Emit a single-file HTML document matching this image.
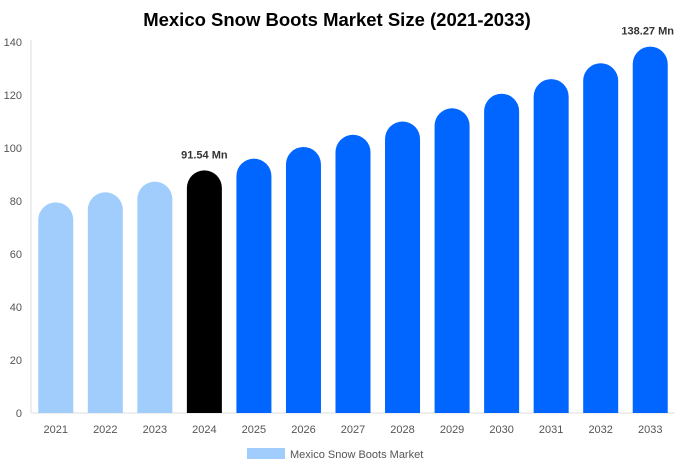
<!DOCTYPE html>
<html><head><meta charset="utf-8"><style>
body{margin:0;background:#fff;font-family:"Liberation Sans",Arial,sans-serif}
svg text{font-family:"Liberation Sans",Arial,sans-serif}
</style></head><body>
<svg id="c" width="675" height="469">
<text x="337" y="26" text-anchor="middle" font-size="18.5" font-weight="bold" fill="#000">Mexico Snow Boots Market Size (2021-2033)</text>
<g id="axes"></g><g id="bars"></g>
<g>
<rect x="247" y="448" width="38" height="11" fill="#a0cdfc"/>
<text x="290" y="458" font-size="11" fill="#555">Mexico Snow Boots Market</text>
</g>
</svg>
<script>
const categories=["2021","2022","2023","2024","2025","2026","2027","2028","2029","2030","2031","2032","2033"];
const values=[79.5,83.3,87.3,91.54,96,100.4,105,110,115,120.5,126,132,138.27];
const valueLabels=["","","","91.54 Mn","","","","","","","","","138.27 Mn"];
const yTicks=[0,20,40,60,80,100,120,140];
const NS="http://www.w3.org/2000/svg";
const x0=31,x1=675,yB=413,yT=42,yMax=140;
const band=(x1-x0)/categories.length;
const y=v=>yB-(v/yMax)*(yB-yT);
const xc=i=>x0+band*(i+0.5);
function mk(t,a,p){const e=document.createElementNS(NS,t);for(const k in a)e.setAttribute(k,a[k]);p.appendChild(e);return e;}
const ax=document.getElementById('axes'),bg=document.getElementById('bars');
const yl=mk('line',{x1:x0,x2:x0,y1:yT-2,y2:yB,stroke:'#ddd'},ax);


const xl=mk('line',{x1:x0,x2:x1,y1:yB,y2:yB,stroke:'#ddd'},ax);


yTicks.forEach(v=>{const t=mk('text',{x:22,y:y(v)+4,'text-anchor':'end','font-size':11,fill:'#555'},ax);t.textContent=v;

});
const bw=35;
categories.forEach((c,i)=>{
 const col=i<3?'#a0cdfc':(i==3?'#000':'#0066ff');
 const top=y(values[i]),r=bw/2,l=xc(i)-r;
 const p=mk('path',{d:`M${l},${yB}L${l},${top+r}A${r},${r} 0 0 1 ${l+bw},${top+r}L${l+bw},${yB}Z`,fill:col},bg);
 
 
 const t=mk('text',{x:xc(i),y:yB+20,'text-anchor':'middle','font-size':11,fill:'#555'},ax);t.textContent=c;
 
 
 if(valueLabels[i]){
  const edge=xc(i)+28>674;
  const v=mk('text',{x:edge?674:xc(i),y:top-12,'text-anchor':edge?'end':'middle','font-size':11,'font-weight':'bold',fill:'#333'},bg);v.textContent=valueLabels[i];
  
  }
});
</script>
</body></html>
